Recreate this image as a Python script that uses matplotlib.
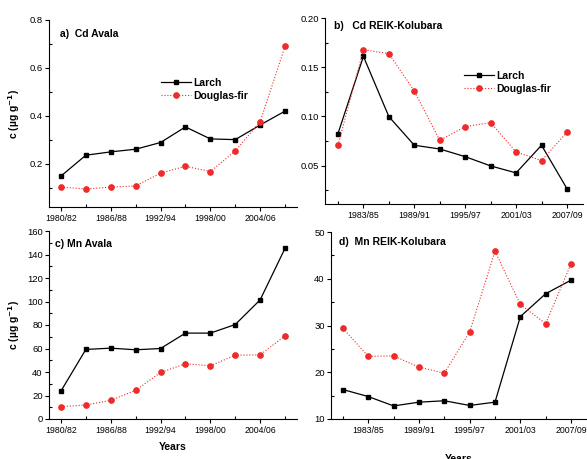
import matplotlib
matplotlib.use('Agg')
import matplotlib.pyplot as plt
from matplotlib.ticker import MultipleLocator, FixedLocator, NullFormatter

plt.rcParams['font.family'] = ['Liberation Sans', 'DejaVu Sans']

years = ['1980/82', '1983/85', '1986/88', '1989/91', '1992/94',
         '1995/97', '1998/00', '2001/03', '2004/06', '2007/09']

# Cd, Avala
cd_avala_larch = [0.149, 0.236, 0.250, 0.261, 0.289, 0.354, 0.304, 0.301, 0.362, 0.420]
cd_avala_fir = [0.103, 0.095, 0.103, 0.108, 0.161, 0.190, 0.168, 0.254, 0.376, 0.690]
# Cd, REIK-Kolubara
cd_reik_larch = [0.0825, 0.161, 0.0998, 0.0707, 0.0669, 0.0591, 0.0497, 0.0426, 0.0707, 0.0266]
cd_reik_fir = [0.0707, 0.1678, 0.1638, 0.1258, 0.0757, 0.0896, 0.0937, 0.0639, 0.0551, 0.0839]
# Mn, Avala
mn_avala_larch = [23.8, 59.2, 60.3, 58.9, 60.0, 73.1, 73.1, 80.4, 101.4, 145.3]
mn_avala_fir = [10.5, 11.9, 15.9, 24.4, 39.6, 47.0, 45.3, 54.3, 54.6, 70.8]
# Mn, REIK-Kolubara
mn_reik_larch = [16.3, 14.8, 12.8, 13.6, 13.9, 12.9, 13.6, 31.9, 36.8, 39.7]
mn_reik_fir = [29.4, 23.4, 23.5, 21.1, 19.8, 28.6, 45.9, 34.5, 30.4, 43.2]

RED = '#ee2a2a'
W, H = 587.0, 459.0

fig = plt.figure(figsize=(5.87, 4.59), dpi=100)


def px_axes(l, t, r, b):
    return fig.add_axes([l / W, 1 - b / H, (r - l) / W, (b - t) / H])


def style(ax, major_idx, ylim, ymaj, ymin, fmt):
    x = list(range(len(years)))
    ax.spines['top'].set_visible(False)
    ax.spines['right'].set_visible(False)
    ax.set_ylim(*ylim)
    ax.yaxis.set_major_locator(MultipleLocator(ymaj))
    ax.yaxis.set_minor_locator(MultipleLocator(ymin))
    ax.yaxis.set_major_formatter(plt.FuncFormatter(lambda v, p: fmt.format(v)))
    ax.xaxis.set_major_locator(FixedLocator(major_idx))
    ax.xaxis.set_minor_locator(FixedLocator([i for i in x if i not in major_idx]))
    ax.set_xticklabels([years[i] for i in major_idx])
    ax.xaxis.set_minor_formatter(NullFormatter())
    ax.tick_params(which='major', direction='out', length=3, width=0.8)
    ax.tick_params(which='minor', direction='in', length=2, width=0.8)
    ax.tick_params(axis='y', labelsize=6.8, pad=1.5)
    ax.tick_params(axis='x', labelsize=6.3, pad=2)
    for s in ax.spines.values():
        s.set_linewidth(0.8)


def draw(ax, larch, fir):
    x = list(range(len(years)))
    ax.plot(x, larch, color='black', lw=0.9, marker='s', ms=3.5, label='Larch')
    ax.plot(x, fir, color=RED, lw=0.8, ls=':', marker='o', ms=3.8, label='Douglas-fir')


ylab = 'c (µg g$^{\\mathbf{-1}}$)'
even = [0, 2, 4, 6, 8]
odd = [1, 3, 5, 7, 9]

# a)
ax = px_axes(49, 20, 297, 207)
draw(ax, cd_avala_larch, cd_avala_fir)
ax.set_xlim(-0.48, 9.48)
style(ax, even, (0.02, 0.8), 0.2, 0.1, '{:.1f}')
ax.text(0.044, 0.925, 'a)  Cd Avala', transform=ax.transAxes, fontsize=7.5,
        fontweight='bold', va='center')
ax.set_ylabel(ylab, fontsize=7.5, fontweight='bold')
ax.yaxis.set_label_coords(-0.11, 0.5)
ax.legend(loc='upper left', bbox_to_anchor=(0.452, 0.69), frameon=False,
          prop={'size': 7.5, 'weight': 'bold'}, handlelength=2.9,
          handletextpad=0.2, borderpad=0, labelspacing=0.3, borderaxespad=0)

# b)
ax = px_axes(325, 18, 583, 204)
draw(ax, cd_reik_larch, cd_reik_fir)
ax.set_xlim(-0.51, 9.63)
style(ax, odd, (0.011, 0.2), 0.05, 0.025, '{:.2f}')
ax.text(0.035, 0.955, 'b)   Cd REIK-Kolubara', transform=ax.transAxes, fontsize=7.5,
        fontweight='bold', va='center')
ax.legend(loc='upper left', bbox_to_anchor=(0.539, 0.715), frameon=False,
          prop={'size': 7.5, 'weight': 'bold'}, handlelength=2.9,
          handletextpad=0.2, borderpad=0, labelspacing=0.3, borderaxespad=0)

# c)
ax = px_axes(49, 231, 297, 419)
draw(ax, mn_avala_larch, mn_avala_fir)
ax.set_xlim(-0.48, 9.48)
style(ax, even, (0, 160), 20, 10, '{:.0f}')
ax.text(0.024, 0.93, 'c) Mn Avala', transform=ax.transAxes, fontsize=7.5,
        fontweight='bold', va='center')
ax.set_ylabel(ylab, fontsize=7.5, fontweight='bold')
ax.yaxis.set_label_coords(-0.11, 0.5)
ax.set_xlabel('Years', fontsize=7.5, fontweight='bold')
ax.xaxis.set_label_coords(0.5, -0.12)

# d)
ax = px_axes(331, 232, 587, 419)
draw(ax, mn_reik_larch, mn_reik_fir)
ax.set_xlim(-0.47, 9.63)
style(ax, odd, (10, 50), 10, 5, '{:.0f}')
ax.text(0.031, 0.947, 'd)  Mn REIK-Kolubara', transform=ax.transAxes, fontsize=7.5,
        fontweight='bold', va='center')
ax.set_xlabel('Years', fontsize=7.5, fontweight='bold')
ax.xaxis.set_label_coords(0.5, -0.185)

fig.savefig('out.png', dpi=100)
